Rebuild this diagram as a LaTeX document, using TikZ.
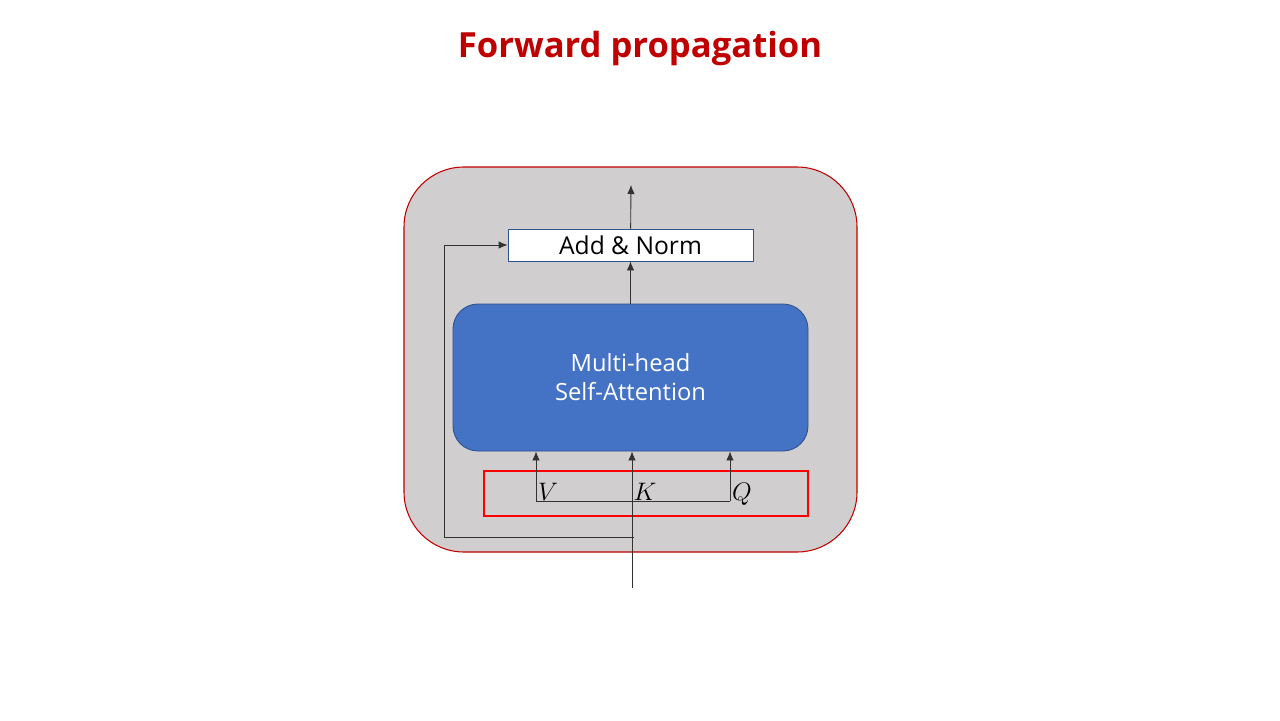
\documentclass[tikz,border=0pt]{standalone}
\usepackage{fontspec}
\setmainfont{Open Sans}
\usepackage{tikz}
\usetikzlibrary{shapes.geometric, arrows, arrows.meta, positioning}
\definecolor{darkred}{RGB}{192,0,0}
\definecolor{panelgrey}{RGB}{208,206,206}
\definecolor{mhsablue}{RGB}{68,114,196}
\definecolor{edgeblue}{RGB}{47,82,143}
\definecolor{linegrey}{RGB}{50,50,50}
\tikzstyle{panel} = [rectangle, rounded corners=1.2cm, minimum width=9.06cm, minimum height=7.7cm, draw=darkred, line width=0.6pt, fill=panelgrey]
\tikzstyle{addbox} = [rectangle, minimum width=4.9cm, minimum height=0.64cm, inner sep=0pt, text centered, draw=edgeblue, line width=0.5pt, fill=white, font=\fontsize{14}{16}\selectfont]
\tikzstyle{attbox} = [rectangle, rounded corners=0.5cm, minimum width=7.1cm, minimum height=2.94cm, text centered, align=center, draw=edgeblue, line width=0.5pt, fill=mhsablue, text=white, font=\fontsize{13.5}{16.5}\selectfont]
\tikzstyle{inputbox} = [rectangle, minimum width=6.48cm, minimum height=0.9cm, draw=red, line width=1.2pt]
\tikzstyle{letter} = [inner sep=0pt, font=\fontsize{14.5}{16}\selectfont]
\tikzstyle{arrow} = [draw=linegrey, line width=0.5pt, -{Latex[length=1.8mm, width=1.5mm]}]
\tikzstyle{wire} = [draw=linegrey, line width=0.5pt]

\begin{document}
\begin{tikzpicture}
	\useasboundingbox (0,0) rectangle (25.6,-14.4);
	\node (title) at (12.8,-0.98) {\fontsize{19.7}{24}\selectfont\bfseries\color{darkred}Forward propagation};
	
	\node (panel) [panel] at (12.61,-7.19) {};
	\node (mhsa) [attbox] at (12.61,-7.55) {Multi-head\\Self-Attention};
	\node (addnorm) [addbox, above of=mhsa, yshift=1.65cm] {Add \& Norm};
	\node (qkv) [inputbox] at (12.92,-9.87) {};
	\node (V) [letter] at (10.96,-9.84) {$V$};
	\node (K) [letter] at (12.9,-9.84) {$K$};
	\node (Q) [letter] at (14.84,-9.88) {$Q$};
	
	\coordinate (in) at (12.64,-11.76);
	\coordinate (vbase) at (10.72,-10.02);
	\coordinate (qbase) at (14.6,-10.02);
	\coordinate (res) at (12.68,-10.74);
	\coordinate (resleft) at (8.88,-10.74);
	\coordinate (out) at (12.62,-3.7);
	
	\draw [arrow] (in) -- (in |- mhsa.south);
	\draw [wire] (vbase) -- (qbase);
	\draw [arrow] (vbase) -- (vbase |- mhsa.south);
	\draw [arrow] (qbase) -- (qbase |- mhsa.south);
	\draw [arrow] (res) -- (resleft) |- (addnorm.west);
	\draw [arrow] (mhsa) -- (addnorm);
	\draw [arrow] (addnorm) -- (out);
\end{tikzpicture}
\end{document}
